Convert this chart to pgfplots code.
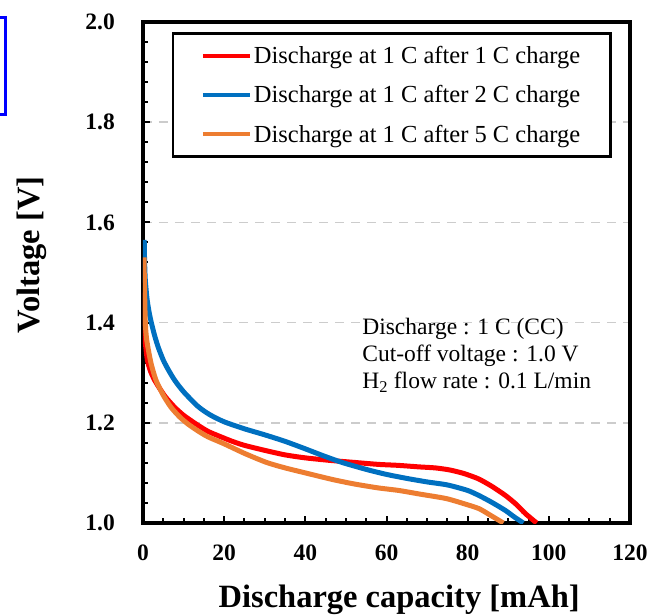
\documentclass[border=0pt]{standalone}
\usepackage{fontspec}
\setmainfont{Liberation Serif}
\usepackage{pgfplots}
\pgfplotsset{compat=1.18}

\definecolor{cred}{RGB}{255,0,0}
\definecolor{cblue}{RGB}{0,112,192}
\definecolor{corange}{RGB}{237,125,49}

\begin{document}
\begin{tikzpicture}
\begin{axis}[
    at={(0pt,0pt)}, anchor=south west,
    scale only axis,
    width=487pt, height=501pt,
    xmin=0, xmax=120, ymin=1.0, ymax=2.0,
    xtick={0,20,...,120},
    ytick={1.0,1.2,...,2.0},
    minor x tick num=3,
    minor y tick num=4,
    tick pos=left,
    tick align=inside,
    major tick length=7pt,
    minor tick length=5pt,
    tick style={line width=2pt, black},
    axis line style={line width=4pt},
    ymajorgrids,
    major grid style={gray!40, line width=1.5pt, dash pattern=on 9pt off 7pt},
    /pgf/number format/assume math mode=true,
    ticklabel style={font=\fontsize{23.5}{23.5}\selectfont\bfseries, inner sep=0pt},
    yticklabel style={/pgf/number format/.cd, fixed, fixed zerofill, precision=1},
    yticklabel shift=28pt,
    xticklabel shift=22pt,
    xlabel={Discharge capacity [mAh]},
    ylabel={Voltage [V]},
    label style={font=\fontsize{32.5}{32.5}\selectfont\bfseries, inner sep=0pt},
    xlabel style={at={(axis description cs:0.526,-0.168)}, anchor=base},
    ylabel style={at={(axis description cs:-0.228,0.535)}, anchor=center, rotate=0},
    legend style={at={(rel axis cs:0.962,0.98)}, anchor=north east,
        draw=black, line width=2.5pt, fill=white,
        font=\fontsize{24.5}{24.5}\selectfont,
        inner xsep=28pt, inner ysep=11pt, row sep=16.5pt,
        nodes={inner sep=2pt}},
    legend cell align=left,
    legend image code/.code={\draw[#1, line width=4pt] (0pt,0pt) -- (47pt,0pt);},
    every axis plot/.append style={line width=5pt, no markers, smooth, tension=0.4},
    clip=true,
]
\addplot[cred] coordinates {
 (0.25,1.46) (0.35,1.41) (0.57,1.362) (1.06,1.326) (1.8,1.304) (2.8,1.286)
 (4,1.270) (5.5,1.252) (7.8,1.231) (10,1.215) (13,1.198) (16,1.183)
 (19.2,1.172) (22,1.163) (25,1.155) (30,1.145)
 (35,1.136) (40,1.130) (46,1.125) (52,1.121) (58,1.117) (63,1.115)
 (68,1.112) (72,1.110) (75.5,1.106) (79,1.099) (82.7,1.088) (86,1.073) (89.3,1.055)
 (92,1.037) (94.2,1.019) (97,1.0)
};
\addlegendentry{Discharge at 1 C after 1 C charge}
\addplot[cblue] coordinates {
 (0.3,1.565) (0.4,1.52) (0.57,1.485) (1.0,1.447) (1.5,1.421) (2.05,1.400)
 (2.8,1.376) (3.7,1.352) (5,1.325) (6.3,1.305) (7.8,1.285) (10,1.262)
 (13.5,1.233) (16.5,1.216) (20,1.202) (25,1.188) (30,1.176) (35,1.163)
 (40,1.148) (44.5,1.134) (49,1.121) (55,1.107) (60,1.097) (65,1.089)
 (70,1.082) (75,1.076) (80,1.065)
 (83,1.054) (86,1.041) (89.3,1.025) (91.5,1.012) (93.7,1.0)
};
\addlegendentry{Discharge at 1 C after 2 C charge}
\addplot[corange] coordinates {
 (0.25,1.53) (0.35,1.48) (0.57,1.40) (0.85,1.37) (1.2,1.351) (2,1.318)
 (3.2,1.285) (5,1.255) (6.9,1.231) (9,1.212) (11,1.198) (13.5,1.184)
 (16,1.172) (20,1.158) (25,1.139) (30.4,1.121)
 (35,1.110) (40,1.100) (46.6,1.087) (52,1.078) (58,1.070) (63,1.065)
 (68,1.058) (74.6,1.049) (78.5,1.040) (82.7,1.029) (85.5,1.016) (88.8,1.0)
};
\addlegendentry{Discharge at 1 C after 5 C charge}
\node[anchor=north west, align=left, inner sep=0pt,
      font=\fontsize{23.5}{27}\selectfont] at (axis cs:54,1.409)
  {Discharge : 1 C (CC)\\Cut-off voltage : 1.0 V\\H\textsubscript{2} flow rate : 0.1 L/min};
\end{axis}
\draw[blue, line width=3pt] (-163pt,505.5pt) -- (-137.5pt,505.5pt) -- (-137.5pt,408.5pt) -- (-163pt,408.5pt);
\pgfresetboundingbox
\path[use as bounding box] (-143pt,-91pt) rectangle (507pt,523pt);
\end{tikzpicture}
\end{document}
